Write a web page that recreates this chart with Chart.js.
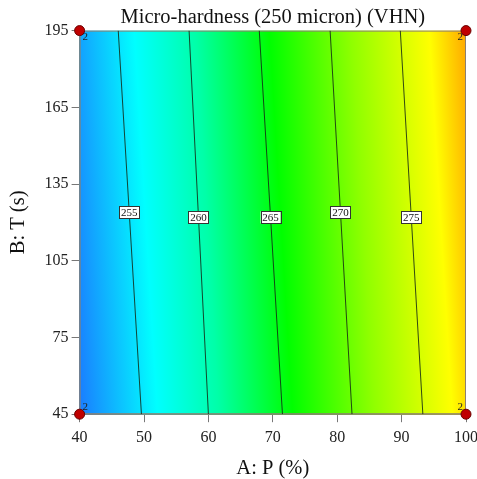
<!DOCTYPE html>
<html>
<head>
<meta charset="utf-8">
<script src="https://cdn.jsdelivr.net/npm/chart.js@4/dist/chart.umd.min.js"></script>
<style>
  body { margin: 0; background: #fff; }
</style>
</head>
<body>
<canvas id="myChart" width="477" height="479"></canvas>
<script>
// contour levels and where each line meets the top (B=195) and bottom (B=45) edge
const contourLevels = [255, 260, 265, 270, 275];
const contourTopX = [46.0, 57.0, 67.9, 78.9, 89.8];
const contourBottomX = [49.6, 60.0, 71.5, 82.3, 93.3];
const contourLabelY = [124, 122, 122, 124, 122];

// design points (corners), with replicate counts
const designX = [40, 40, 100, 100];
const designY = [45, 195, 45, 195];
const designCount = [2, 2, 2, 2];

const serif = "'Liberation Serif', 'Times New Roman', serif";

const ctx = document.getElementById('myChart').getContext('2d');

// background colour surface, drawn across the plot area perpendicular to the contours
const surfacePlugin = {
    id: 'surface',
    beforeDatasetsDraw: (chart) => {
        const {ctx, chartArea: a, scales: {x, y}} = chart;
        // direction of the contour lines in pixels
        const dx = x.getPixelForValue(contourBottomX[0]) - x.getPixelForValue(contourTopX[0]);
        const dy = y.getPixelForValue(45) - y.getPixelForValue(195);
        const len = Math.hypot(dx, dy);
        const nx = dy / len, ny = -dx / len;
        const corners = [[a.left, a.top], [a.right, a.top], [a.left, a.bottom], [a.right, a.bottom]];
        const proj = corners.map(c => c[0] * nx + c[1] * ny);
        const tmin = Math.min(...proj), tmax = Math.max(...proj);
        const g = ctx.createLinearGradient(nx * tmin, ny * tmin, nx * tmax, ny * tmax);
        g.addColorStop(0, '#1a7cff');
        g.addColorStop(0.19, '#00ffff');
        g.addColorStop(0.34, '#00ffa8');
        g.addColorStop(0.52, '#00ff00');
        g.addColorStop(0.72, '#90ff00');
        g.addColorStop(0.91, '#ffff00');
        g.addColorStop(1, '#ffa800');
        ctx.save();
        ctx.fillStyle = g;
        ctx.fillRect(a.left, a.top, a.right - a.left, a.bottom - a.top);
        ctx.strokeStyle = '#8c8070';
        ctx.lineWidth = 1;
        ctx.strokeRect(a.left + 0.5, a.top + 0.5, a.right - a.left - 1, a.bottom - a.top - 1);
        ctx.restore();
    },
    afterDatasetsDraw: (chart) => {
        const {ctx, scales: {x, y}} = chart;
        ctx.save();
        // contour labels
        ctx.font = '11px ' + serif;
        ctx.textAlign = 'center';
        ctx.textBaseline = 'middle';
        contourLevels.forEach((lev, i) => {
            const f = (195 - contourLabelY[i]) / 150;
            const xv = contourTopX[i] + f * (contourBottomX[i] - contourTopX[i]);
            const px = x.getPixelForValue(xv);
            const py = y.getPixelForValue(contourLabelY[i]);
            ctx.fillStyle = '#fff';
            ctx.fillRect(px - 10, py - 6, 20, 12);
            ctx.strokeStyle = '#333';
            ctx.lineWidth = 1;
            ctx.strokeRect(Math.round(px - 10) + 0.5, Math.round(py - 6) + 0.5, 20, 12);
            ctx.fillStyle = '#111';
            ctx.fillText(String(lev), px, py + 0.5);
        });
        // replicate counts next to design points
        ctx.font = '11px ' + serif;
        ctx.fillStyle = '#222';
        designX.forEach((xv, i) => {
            const px = x.getPixelForValue(xv);
            const py = y.getPixelForValue(designY[i]);
            const sx = xv === 40 ? 1 : -1;
            const sy = designY[i] === 45 ? -1 : 1;
            ctx.textAlign = sx > 0 ? 'left' : 'right';
            ctx.fillText(String(designCount[i]), px + sx * 3, py + sy * 7);
        });
        ctx.restore();
    }
};

const contourSets = contourLevels.map((lev, i) => ({
    label: String(lev),
    data: [{x: contourTopX[i], y: 195}, {x: contourBottomX[i], y: 45}],
    showLine: true,
    borderColor: 'rgba(20, 40, 20, 0.85)',
    borderWidth: 1,
    pointRadius: 0,
    fill: false
}));

const myChart = new Chart(ctx, {
    type: 'scatter',
    data: {
        datasets: [
            {
                label: 'Design points',
                data: designX.map((xv, i) => ({x: xv, y: designY[i]})),
                pointRadius: 5,
                pointBackgroundColor: '#c00000',
                pointBorderColor: '#6a0000',
                pointBorderWidth: 1,
                clip: false
            },
            ...contourSets
        ]
    },
    options: {
        responsive: false,
        animation: false,
        layout: { padding: { left: 0, right: 11, top: 0, bottom: 0 } },
        plugins: {
            legend: { display: false },
            tooltip: { enabled: false },
            title: {
                display: true,
                text: 'Micro-hardness (250 micron) (VHN)',
                fullSize: false,
                color: '#111',
                font: { family: serif, size: 20.5, weight: 'normal' },
                padding: { top: 5, bottom: 1 }
            }
        },
        scales: {
            x: {
                type: 'linear',
                min: 40,
                max: 100,
                // let the "100" label run off the edge like the original
                afterFit: (scale) => { scale.paddingRight = 0; },
                ticks: {
                    stepSize: 10,
                    color: '#222',
                    font: { family: serif, size: 16 },
                    padding: 6
                },
                grid: { drawOnChartArea: false, tickLength: 8, color: '#777' },
                border: { color: '#8c8070' },
                title: {
                    display: true,
                    text: 'A: P (%)',
                    color: '#111',
                    font: { family: serif, size: 20.5 },
                    padding: { top: 3, bottom: -2 }
                }
            },
            y: {
                type: 'linear',
                min: 45,
                max: 195,
                ticks: {
                    stepSize: 30,
                    color: '#222',
                    font: { family: serif, size: 16 },
                    padding: 3
                },
                grid: { drawOnChartArea: false, tickLength: 8, color: '#777' },
                border: { color: '#8c8070' },
                title: {
                    display: true,
                    text: 'B: T (s)',
                    color: '#111',
                    font: { family: serif, size: 20.5 },
                    padding: { top: 6, bottom: 11 }
                }
            }
        }
    },
    plugins: [surfacePlugin]
});
</script>
</body>
</html>
